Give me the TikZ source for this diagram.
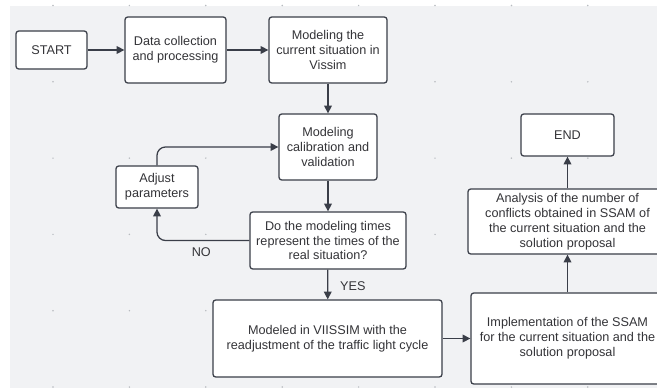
\documentclass[tikz,border=0pt]{standalone}
\usepackage{fontspec}
\setmainfont{Liberation Sans}
\usetikzlibrary{arrows.meta}

\begin{document}
\begin{tikzpicture}[x=0.025cm, y=-0.025cm, line width=0.9pt,
        box/.style={draw=linecolor, fill=white, rounded corners=2pt, align=center,
            inner sep=0pt, text=textcolor, font=\fontsize{9}{10.6}\selectfont},
        flow/.style={draw=linecolor, -{Triangle[length=5.5pt, width=5.5pt]}},
        flowlabel/.style={text=textcolor, font=\fontsize{9}{10.6}\selectfont}]
        \definecolor{bgcolor}{RGB}{241, 242, 244}
        \definecolor{dotcolor}{RGB}{184, 187, 192}
        \definecolor{linecolor}{RGB}{58, 62, 72}
        \definecolor{textcolor}{RGB}{52, 52, 56}

        \path[use as bounding box, clip] (0,0) rectangle (657,388);

        % Draw background
        \fill[white] (0,0) rectangle (657,388);
        \fill[bgcolor] (10,6) rectangle (657,388);
        \foreach \gx in {0,...,7}
            \foreach \gy in {0,...,5}
                \fill[dotcolor] (53+76.4*\gx, 5.5+76.3*\gy) circle (0.6pt);

        % Draw boxes
        \node[box, minimum width=1.775cm, minimum height=0.95cm] (start) at (51.5,50) {START};
        \node[box, minimum width=2.525cm, minimum height=1.65cm] (data) at (175.5,50) {Data collection\\and processing};
        \node[box, minimum width=2.95cm, minimum height=1.65cm] (current) at (328,50) {Modeling the\\current situation in\\Vissim};
        \node[box, minimum width=2.45cm, minimum height=1.65cm] (calib) at (328,147) {Modeling\\calibration and\\validation};
        \node[box, minimum width=2.05cm, minimum height=1.05cm] (adjust) at (157,187) {Adjust\\parameters};
        \node[box, minimum width=3.9cm, minimum height=1.425cm] (decision) at (328,240.5) {Do the modeling times\\represent the times of the\\real situation?};
        \node[box, minimum width=5.725cm, minimum height=1.925cm] (vissim) at (327.5,338.5) {Modeled in VIISSIM with the\\readjustment of the traffic light cycle};
        \node[box, minimum width=4.825cm, minimum height=2.275cm] (impl) at (567.5,338.5) {Implementation of the SSAM\\for the current situation and the\\solution proposal};
        \node[box, minimum width=4.975cm, minimum height=1.625cm] (analysis) at (567.5,221.5) {Analysis of the number of\\conflicts obtained in SSAM of\\the current situation and the\\solution proposal};
        \node[box, minimum width=2.325cm, minimum height=1.05cm] (end) at (567.5,135) {END};

        % Draw connectors
        \draw[flow] (start) -- (data);
        \draw[flow] (data) -- (current);
        \draw[flow] (current) -- (calib);
        \draw[flow] (calib) -- (decision);
        \draw[flow] (decision) -- node[flowlabel, anchor=west, xshift=5pt, yshift=-1.5pt, pos=0.5] {YES} (vissim);
        \draw[flow, rounded corners=6pt] (decision.west) -| node[flowlabel, below, pos=0.26, yshift=-1pt] {NO} (adjust.south);
        \draw[flow, rounded corners=6pt] (adjust.north) |- (calib.west);
        \draw[flow] (vissim) -- (impl);
        \draw[flow] (impl) -- (analysis);
        \draw[flow] (analysis) -- (end);
    \end{tikzpicture}
\end{document}
